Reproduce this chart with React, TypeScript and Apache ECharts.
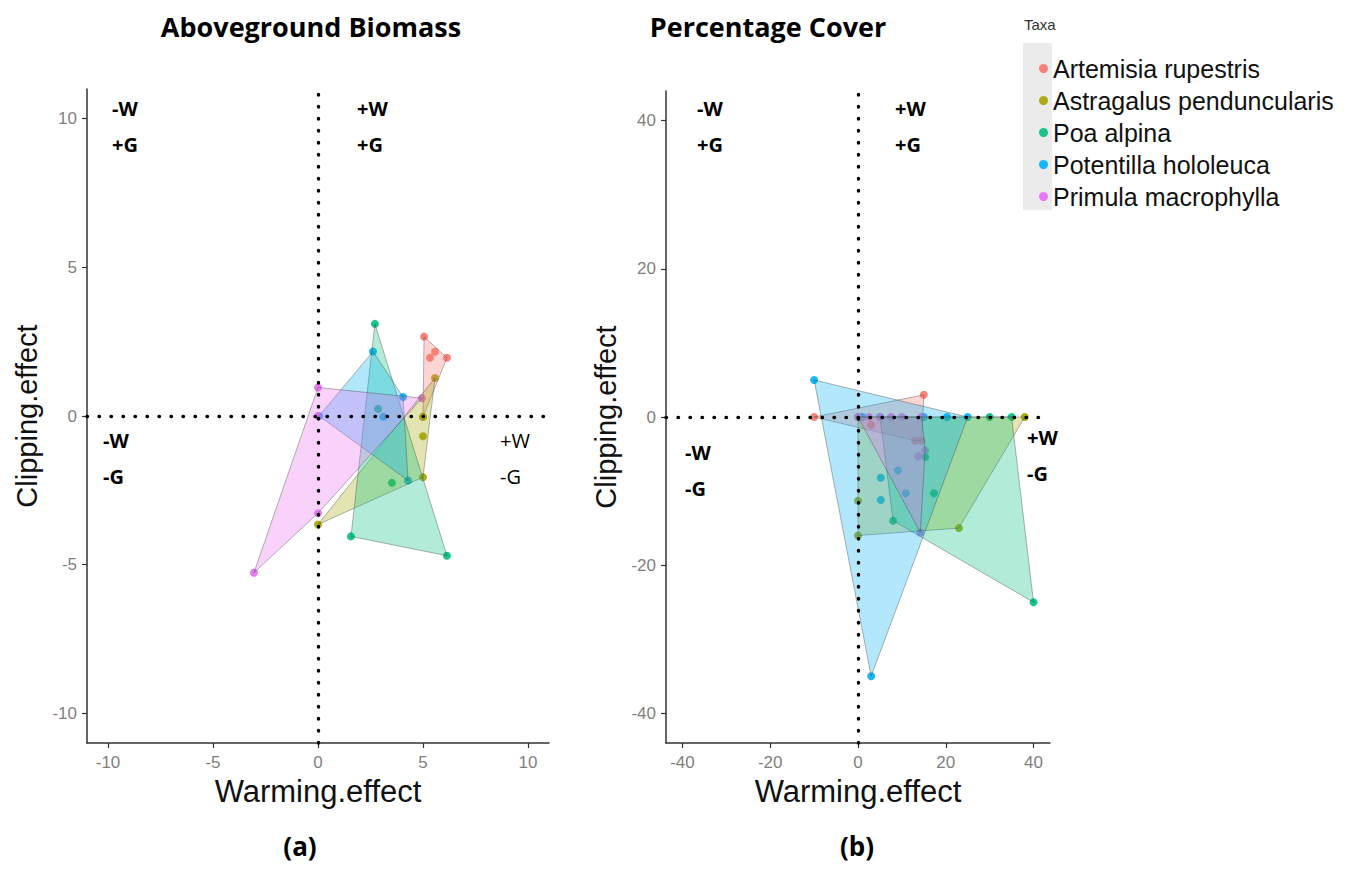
import React, { useEffect, useRef } from "react";
import * as echarts from "echarts";

const TAXA = [
  "Artemisia rupestris",
  "Astragalus penduncularis",
  "Poa alpina",
  "Potentilla hololeuca",
  "Primula macrophylla",
];
const COLORS = ["#F8766D", "#A3A500", "#00BF7D", "#00B0F6", "#E76BF3"];

// Panel (a) Aboveground Biomass: [Warming.effect, Clipping.effect]
const biomassArtemisia = [[5.05, 2.67], [5.57, 2.16], [5.33, 1.96], [6.14, 1.96], [5.0, -0.03]];
const biomassAstragalus = [[5.57, 1.28], [5.0, -0.03], [5.0, -0.68], [5.0, -2.06], [0, -3.65]];
const biomassPoa = [[2.71, 3.1], [6.14, -4.7], [1.57, -4.05], [3.52, -2.25], [2.86, 0.24]];
const biomassPotentilla = [[2.62, 2.17], [4.05, 0.64], [3.1, -0.03], [4.29, -2.17], [0.05, 0]];
const biomassPrimula = [[0, 0.96], [0, 0], [4.95, 0.6], [0, -3.27], [-3.05, -5.27]];

// Panel (b) Percentage Cover
const coverArtemisia = [[-10, 0], [15, 3], [14.5, -3.2], [3, -1.1], [13, -3.2]];
const coverAstragalus = [[0, 0], [38, 0], [23, -15], [0, -16], [0, -11.3]];
const coverPoa = [[5, 0], [30, 0], [35, 0], [40, -25], [8, -14], [15.3, -5.4], [17.3, -10.3]];
const coverPotentilla = [[-10, 5], [25, 0], [3, -35], [15, 0], [20.3, 0], [5.2, -8.2], [5.2, -11.2], [9.1, -7.2], [10.9, -10.3], [1, 0]];
const coverPrimula = [[0, 0], [2.5, 0], [5, 0], [7.5, 0], [10, 0], [14.5, 0], [15.3, -4.5], [13.7, -5.3], [14.2, -15.6]];

const biomassSets = [biomassArtemisia, biomassAstragalus, biomassPoa, biomassPotentilla, biomassPrimula];
const coverSets = [coverArtemisia, coverAstragalus, coverPoa, coverPotentilla, coverPrimula];

const biomassTicks = [-10, -5, 0, 5, 10];
const coverTicks = [-40, -20, 0, 20, 40];

const AXIS_FONT = "Liberation Sans, Arial, sans-serif";
const BOLD_FONT = "'Open Sans', Lato, sans-serif";

function hull(points: number[][]): number[][] {
  const p = points.slice().sort((a, b) => (a[0] - b[0]) || (a[1] - b[1]));
  const cross = (o: number[], a: number[], b: number[]) =>
    (a[0] - o[0]) * (b[1] - o[1]) - (a[1] - o[1]) * (b[0] - o[0]);
  const lower: number[][] = [];
  for (const pt of p) {
    while (lower.length >= 2 && cross(lower[lower.length - 2], lower[lower.length - 1], pt) <= 0) lower.pop();
    lower.push(pt);
  }
  const upper: number[][] = [];
  for (let i = p.length - 1; i >= 0; i--) {
    const pt = p[i];
    while (upper.length >= 2 && cross(upper[upper.length - 2], upper[upper.length - 1], pt) <= 0) upper.pop();
    upper.push(pt);
  }
  upper.pop();
  lower.pop();
  return lower.concat(upper);
}

function rgba(hex: string, a: number) {
  const r = parseInt(hex.slice(1, 3), 16);
  const g = parseInt(hex.slice(3, 5), 16);
  const b = parseInt(hex.slice(5, 7), 16);
  return `rgba(${r},${g},${b},${a})`;
}

function makeAxes(idx: number, min: number, max: number, ticks: number[], horizontal: boolean) {
  return {
    gridIndex: idx,
    type: "value",
    min,
    max,
    axisLine: { onZero: false, lineStyle: { color: "#333", width: 1.5 } },
    axisTick: { customValues: ticks, length: 5, lineStyle: { color: "#333", width: 1.2 } },
    axisLabel: {
      customValues: ticks,
      color: "#7f7f7f",
      fontSize: 17,
      fontFamily: AXIS_FONT,
      margin: horizontal ? 11 : 10,
    },
    splitLine: { show: false },
    name: horizontal ? "Warming.effect" : "Clipping.effect",
    nameLocation: "middle",
    nameGap: horizontal ? 33 : 46,
    nameTextStyle: { fontSize: horizontal ? 31 : 29, color: "#111", fontFamily: AXIS_FONT },
  };
}

function quadText(text: string, x: number, y: number, bold = true) {
  return {
    type: "text",
    x,
    y,
    style: {
      text,
      fill: "#000",
      fontSize: 20,
      fontWeight: bold ? "bold" : "normal",
      fontFamily: BOLD_FONT,
      textVerticalAlign: "middle",
    },
  };
}

export default function App() {
  const ref = useRef<HTMLDivElement>(null);

  useEffect(() => {
    if (!ref.current) return;
    const chart = echarts.init(ref.current, undefined, { renderer: "svg" });

    const series: any[] = [];
    [biomassSets, coverSets].forEach((sets, gi) => {
      sets.forEach((pts, ti) => {
        series.push({
          name: TAXA[ti],
          type: "scatter",
          xAxisIndex: gi,
          yAxisIndex: gi,
          data: pts,
          symbolSize: 8,
          z: 2,
          itemStyle: { color: COLORS[ti], opacity: 0.9 },
        });
      });
      sets.forEach((pts, ti) => {
        const h = hull(pts);
        series.push({
          name: TAXA[ti] + " hull " + gi,
          type: "custom",
          xAxisIndex: gi,
          yAxisIndex: gi,
          z: 3,
          silent: true,
          data: [pts[0]],
          renderItem: (params: any, api: any) => {
            if (params.dataIndex !== 0) return null;
            return {
              type: "polygon",
              shape: { points: h.map((p) => api.coord(p)) },
              style: {
                fill: rgba(COLORS[ti], 0.3),
                stroke: "rgba(70,70,70,0.45)",
                lineWidth: 0.9,
              },
            };
          },
        });
      });
      series.push({
        name: "ref" + gi,
        type: "scatter",
        xAxisIndex: gi,
        yAxisIndex: gi,
        data: [[0, 0]],
        symbolSize: 0,
        z: 5,
        silent: true,
        markLine: {
          silent: true,
          symbol: "none",
          label: { show: false },
          lineStyle: { color: "#000", width: 3.4, type: [0.5, 11.5], cap: "round" },
          data: [{ xAxis: 0 }, { yAxis: 0 }],
        },
      });
    });

    const option: any = {
      animation: false,
      backgroundColor: "#fff",
      grid: [
        { left: 87, top: 89, width: 462, height: 654 },
        { left: 666, top: 91, width: 384, height: 652 },
      ],
      xAxis: [
        makeAxes(0, -11, 11, biomassTicks, true),
        makeAxes(1, -43.75, 43.75, coverTicks, true),
      ],
      yAxis: [
        makeAxes(0, -11, 11, biomassTicks, false),
        makeAxes(1, -44, 44, coverTicks, false),
      ],
      legend: {
        data: TAXA.map((n) => ({ name: n, icon: "circle" })),
        orient: "vertical",
        left: 1034,
        top: 51,
        itemWidth: 9,
        itemHeight: 9,
        itemGap: 7,
        selectedMode: false,
        textStyle: { fontSize: 25, fontFamily: AXIS_FONT, color: "#111", lineHeight: 25 },
      },
      graphic: [
        {
          type: "rect",
          shape: { x: 1023, y: 43, width: 29, height: 167 },
          style: { fill: "#ebebeb" },
          z: -1,
        },
        {
          type: "text",
          x: 1024,
          y: 24,
          style: { text: "Taxa", fontSize: 15, fontFamily: AXIS_FONT, fill: "#333", textVerticalAlign: "middle" },
        },
        {
          type: "text",
          x: 311,
          y: 26,
          style: { text: "Aboveground Biomass", fontSize: 27, fontWeight: "bold", fontFamily: BOLD_FONT, fill: "#000", textAlign: "center", textVerticalAlign: "middle" },
        },
        {
          type: "text",
          x: 768,
          y: 26,
          style: { text: "Percentage Cover", fontSize: 27, fontWeight: "bold", fontFamily: BOLD_FONT, fill: "#000", textAlign: "center", textVerticalAlign: "middle" },
        },
        {
          type: "text",
          x: 300,
          y: 846,
          style: { text: "(a)", fontSize: 26, fontWeight: "bold", fontFamily: BOLD_FONT, fill: "#000", textAlign: "center", textVerticalAlign: "middle" },
        },
        {
          type: "text",
          x: 857,
          y: 846,
          style: { text: "(b)", fontSize: 26, fontWeight: "bold", fontFamily: BOLD_FONT, fill: "#000", textAlign: "center", textVerticalAlign: "middle" },
        },
        quadText("-W", 112, 108),
        quadText("+G", 112, 144),
        quadText("+W", 357, 108),
        quadText("+G", 357, 144),
        quadText("-W", 103, 440),
        quadText("-G", 103, 476),
        quadText("+W", 500, 440, false),
        quadText("-G", 500, 476, false),
        quadText("-W", 697, 108),
        quadText("+G", 697, 144),
        quadText("+W", 895, 108),
        quadText("+G", 895, 144),
        quadText("-W", 685, 452),
        quadText("-G", 685, 488),
        quadText("+W", 1027, 437),
        quadText("-G", 1027, 473),
      ],
      series,
    };

    chart.setOption(option);
    return () => chart.dispose();
  }, []);

  return (
    <div
      ref={ref}
      style={{ position: "absolute", left: 0, top: 0, width: 1353, height: 870, background: "#fff" }}
    />
  );
}
